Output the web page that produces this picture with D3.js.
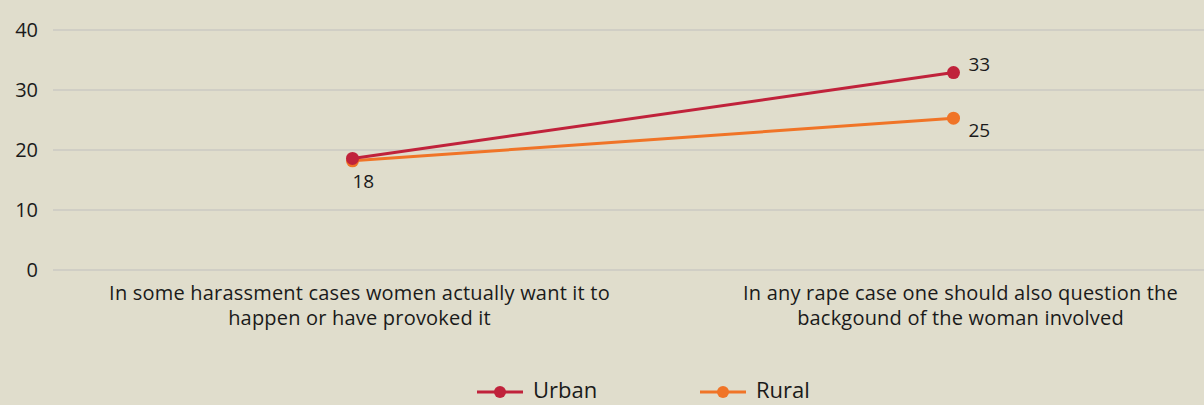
<!DOCTYPE html>
<html>
<head>
<meta charset="utf-8">
<script src="https://cdn.jsdelivr.net/npm/d3@7"></script>
<style>
  html, body { margin: 0; padding: 0; background: #e0ddcc; }
  svg { display: block; font-family: "Open Sans", Lato, sans-serif; }
</style>
</head>
<body>
<svg id="chart" width="1204" height="405"></svg>
<script>
// Statements and shares of respondents agreeing (%)
const categories = [
  ["In some harassment cases women actually want it to", "happen or have provoked it"],
  ["In any rape case one should also question the", "backgound of the woman involved"]
];
const urbanValues = [18.6, 32.9];
const ruralValues = [18.2, 25.3];
const urbanLabels = ["", "33"];
const ruralLabels = ["18", "25"];
const yTicks = [0, 10, 20, 30, 40];
const seriesNames = ["Urban", "Rural"];

const colors = { Urban: "#c0223b", Rural: "#f07427" };

const svg = d3.select("#chart");
const W = 1204;

const x = d3.scaleBand().domain(d3.range(categories.length)).range([52, 1254]);
const y = d3.scaleLinear().domain([0, 40]).range([270, 30]);

// gridlines
svg.append("g")
  .selectAll("line")
  .data(yTicks)
  .join("line")
  .attr("x1", 53).attr("x2", W)
  .attr("y1", d => y(d)).attr("y2", d => y(d))
  .attr("stroke", "#cbc9c3").attr("stroke-width", 1.5);

// y axis labels
const yAxis = d3.axisLeft(y).tickValues(yTicks).tickSize(0).tickPadding(0);
svg.append("g")
  .attr("transform", "translate(38,0)")
  .call(yAxis)
  .call(g => g.select(".domain").remove())
  .call(g => g.selectAll("text")
    .attr("font-size", 20).attr("fill", "#1a1a1a")
    .attr("font-family", "'Open Sans', sans-serif"));

// category labels
const cx = i => x(i) + x.bandwidth() / 2;
const catG = svg.append("g");
categories.forEach((lines, i) => {
  const t = catG.append("text")
    .attr("x", cx(i) + 7)
    .attr("y", 300)
    .attr("text-anchor", "middle")
    .attr("font-size", 20)
    .attr("letter-spacing", 0.2)
    .attr("fill", "#1a1a1a");
  lines.forEach((ln, k) => {
    t.append("tspan").attr("x", cx(i) + 7).attr("dy", k === 0 ? 0 : 25).text(ln);
  });
});

const line = d3.line().x((d, i) => cx(i)).y(d => y(d));

function drawSeries(values, color) {
  svg.append("path")
    .datum(values)
    .attr("d", line)
    .attr("fill", "none")
    .attr("stroke", color)
    .attr("stroke-width", 3);
  svg.append("g").selectAll("circle")
    .data(values)
    .join("circle")
    .attr("cx", (d, i) => cx(i))
    .attr("cy", d => y(d))
    .attr("r", 6.5)
    .attr("fill", color);
}

drawSeries(ruralValues, colors.Rural);
drawSeries(urbanValues, colors.Urban);

// value labels
const labelG = svg.append("g").attr("font-size", 19).attr("fill", "#1a1a1a");
urbanValues.forEach((v, i) => {
  if (!urbanLabels[i]) return;
  labelG.append("text")
    .attr("x", cx(i) + 15).attr("y", y(v) - 7)
    .attr("dominant-baseline", "middle")
    .text(urbanLabels[i]);
});
ruralValues.forEach((v, i) => {
  if (!ruralLabels[i]) return;
  const dx = i === 0 ? 0 : 15;
  labelG.append("text")
    .attr("x", cx(i) + dx).attr("y", y(v) + (i === 0 ? 22 : 14))
    .attr("dominant-baseline", "middle")
    .text(ruralLabels[i]);
});

// legend
const legendX = [477, 700];
const legend = svg.append("g");
seriesNames.forEach((name, i) => {
  const g = legend.append("g").attr("transform", `translate(${legendX[i]},392)`);
  g.append("line").attr("x1", 0).attr("x2", 46).attr("y1", 0).attr("y2", 0)
    .attr("stroke", colors[name]).attr("stroke-width", 3);
  g.append("circle").attr("cx", 23).attr("cy", 0).attr("r", 6).attr("fill", colors[name]);
  g.append("text").attr("x", 56).attr("y", 0)
    .attr("dominant-baseline", "middle")
    .attr("font-size", 22).attr("fill", "#1a1a1a")
    .text(name);
});
</script>
</body>
</html>
